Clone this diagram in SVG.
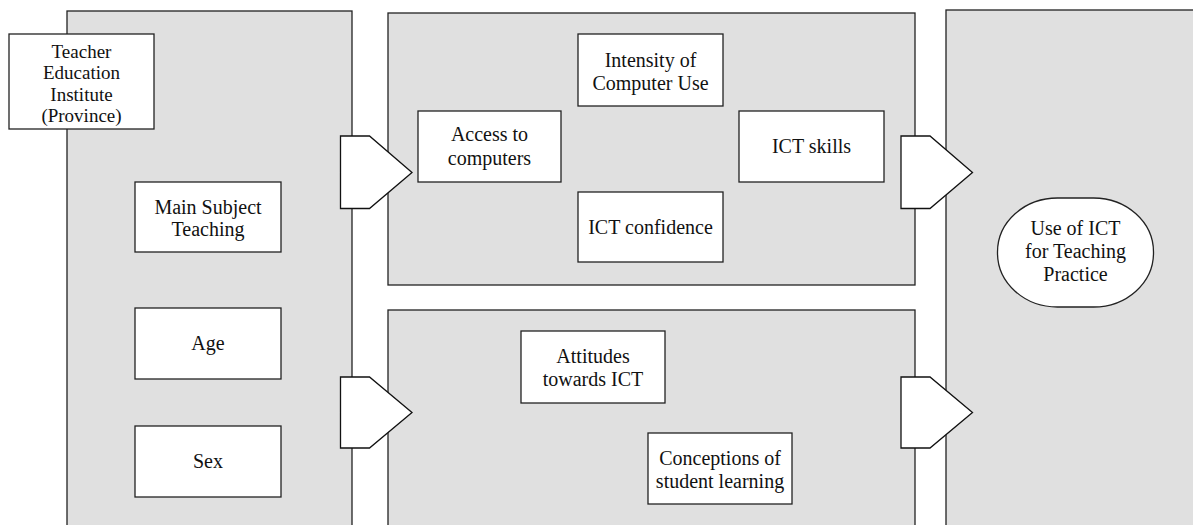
<svg xmlns="http://www.w3.org/2000/svg" width="1193" height="525" viewBox="0 0 1193 525">
<style>
.panel{fill:#e0e0e0;stroke:#222;stroke-width:1.3}
.box{fill:#fff;stroke:#222;stroke-width:1.3}
.arrow{fill:#fff;stroke:#111;stroke-width:1.3;stroke-linejoin:miter}
text{font-size:20px;fill:#111;text-anchor:middle}
.small{font-size:19px}
</style>
<rect width="1193" height="525" fill="#fff"/>
<g id="panels">
<rect id="panel-background" class="panel" x="67" y="11" width="285" height="530"/>
<rect id="panel-computer" class="panel" x="388" y="13" width="527" height="272"/>
<rect id="panel-beliefs" class="panel" x="388" y="310" width="527" height="230"/>
<rect id="panel-outcome" class="panel" x="946" y="10" width="260" height="530"/>
</g>
<g id="connectors">
<polygon class="arrow" points="340.5,136 369.5,136 412,172.5 369.5,208.5 340.5,208.5"/>
<polygon class="arrow" points="340.5,377 369.5,377 412,412.5 369.5,448 340.5,448"/>
<polygon class="arrow" points="901,136 930,136 972.5,172.5 930,208.5 901,208.5"/>
<polygon class="arrow" points="901,377 930,377 972.5,412.5 930,448 901,448"/>
</g>
<g font-family="Liberation Serif, serif">
<g id="teacher-education-institute">
<rect class="box" x="9" y="34" width="145" height="95"/>
<text class="small" x="81.5" y="57.5">Teacher</text>
<text class="small" x="81.5" y="79">Education</text>
<text class="small" x="81.5" y="100.5">Institute</text>
<text class="small" x="81.5" y="122">(Province)</text>
</g>
<g id="main-subject-teaching">
<rect class="box" x="135" y="182" width="146" height="70"/>
<text x="208" y="214">Main Subject</text>
<text x="208" y="236">Teaching</text>
</g>
<g id="age">
<rect class="box" x="135" y="308" width="146" height="71"/>
<text x="208" y="350">Age</text>
</g>
<g id="sex">
<rect class="box" x="135" y="426" width="146" height="71"/>
<text x="208" y="468">Sex</text>
</g>
<g id="intensity-of-computer-use">
<rect class="box" x="578" y="34" width="145" height="72"/>
<text x="650.5" y="66.5">Intensity of</text>
<text x="650.5" y="89.5">Computer Use</text>
</g>
<g id="access-to-computers">
<rect class="box" x="418" y="111" width="143" height="71"/>
<text x="489.5" y="141">Access to</text>
<text x="489.5" y="165">computers</text>
</g>
<g id="ict-skills">
<rect class="box" x="739" y="111" width="145" height="71"/>
<text x="811.5" y="153">ICT skills</text>
</g>
<g id="ict-confidence">
<rect class="box" x="578" y="192" width="145" height="70"/>
<text x="650.5" y="234">ICT confidence</text>
</g>
<g id="attitudes-towards-ict">
<rect class="box" x="521" y="331" width="144" height="72"/>
<text x="593" y="363">Attitudes</text>
<text x="593" y="386">towards ICT</text>
</g>
<g id="conceptions-of-student-learning">
<rect class="box" x="648" y="433" width="144" height="71"/>
<text x="720" y="465">Conceptions of</text>
<text x="720" y="488">student learning</text>
</g>
<g id="use-of-ict-for-teaching-practice">
<rect class="box" x="997.5" y="198" width="156" height="109" rx="60" ry="54"/>
<text x="1075.5" y="234.5">Use of ICT</text>
<text x="1075.5" y="257.5">for Teaching</text>
<text x="1075.5" y="281">Practice</text>
</g>
</g>
</svg>
